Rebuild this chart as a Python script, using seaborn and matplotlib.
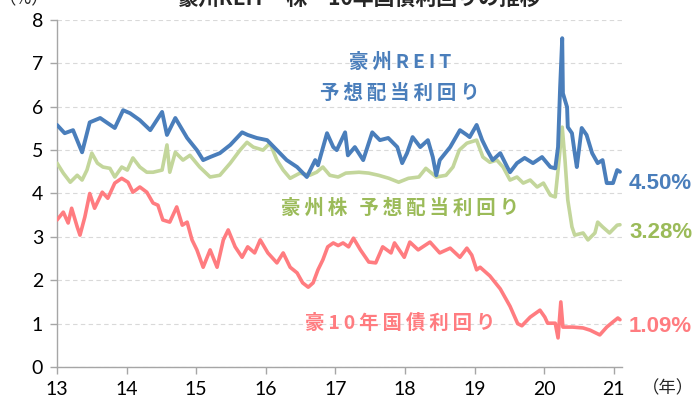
import matplotlib
matplotlib.use("Agg")
import matplotlib.pyplot as plt
import seaborn as sns
import pandas as pd

# 豪州REIT 予想配当利回り
reit_x = [13.00, 13.11, 13.23, 13.36, 13.47, 13.62, 13.83, 13.95, 14.05, 14.19, 14.34, 14.51, 14.58,
          14.70, 14.87, 15.01, 15.10, 15.20, 15.34, 15.49, 15.66, 15.74, 15.87, 16.02, 16.16, 16.30,
          16.45, 16.59, 16.71, 16.75, 16.88, 16.97, 17.02, 17.14, 17.18, 17.28, 17.40, 17.53, 17.64,
          17.76, 17.89, 17.96, 18.03, 18.11, 18.22, 18.33, 18.40, 18.45, 18.50, 18.65, 18.79, 18.89,
          18.93, 19.03, 19.11, 19.18, 19.26, 19.37, 19.47, 19.51, 19.61, 19.72, 19.84, 19.97, 20.09,
          20.16, 20.20, 20.23, 20.26, 20.27, 20.33, 20.34, 20.40, 20.44, 20.47, 20.54, 20.61, 20.69,
          20.77, 20.84, 20.90, 20.99, 21.05, 21.09]
reit_y = [5.58, 5.39, 5.46, 4.95, 5.64, 5.74, 5.51, 5.92, 5.85, 5.69, 5.46, 5.88, 5.35,
          5.74, 5.28, 5.00, 4.77, 4.84, 4.93, 5.12, 5.41, 5.35, 5.28, 5.23, 5.00, 4.77,
          4.61, 4.38, 4.77, 4.65, 5.39, 5.07, 5.00, 5.41, 4.88, 5.07, 4.77, 5.41, 5.23,
          5.28, 5.07, 4.70, 4.93, 5.30, 5.07, 5.23, 4.84, 4.42, 4.77, 5.07, 5.46, 5.35,
          5.30, 5.58, 5.23, 5.00, 4.77, 4.93, 4.61, 4.49, 4.70, 4.82, 4.70, 4.84, 4.61,
          4.58, 5.07, 6.45, 7.58, 6.31, 5.99, 5.53, 5.39, 4.93, 4.61, 5.51, 5.35, 4.93,
          4.70, 4.77, 4.24, 4.24, 4.54, 4.50]

# 豪州株 予想配当利回り
stock_x = [13.00, 13.09, 13.19, 13.29, 13.36, 13.43, 13.50, 13.58, 13.66, 13.76, 13.83, 13.93, 14.01,
           14.09, 14.19, 14.29, 14.38, 14.51, 14.58, 14.62, 14.70, 14.81, 14.91, 15.05, 15.20, 15.34,
           15.49, 15.63, 15.73, 15.82, 15.96, 16.06, 16.16, 16.25, 16.35, 16.49, 16.63, 16.73, 16.82,
           16.92, 17.04, 17.15, 17.34, 17.48, 17.62, 17.77, 17.91, 18.05, 18.20, 18.30, 18.45, 18.59,
           18.69, 18.78, 18.89, 19.03, 19.12, 19.22, 19.32, 19.41, 19.51, 19.61, 19.70, 19.80, 19.90,
           19.99, 20.09, 20.16, 20.20, 20.26, 20.30, 20.34, 20.40, 20.44, 20.56, 20.63, 20.73, 20.77,
           20.84, 20.94, 21.05, 21.09]
stock_y = [4.70, 4.47, 4.26, 4.42, 4.31, 4.54, 4.93, 4.70, 4.61, 4.58, 4.38, 4.61, 4.54,
           4.82, 4.61, 4.49, 4.49, 4.54, 5.12, 4.49, 4.95, 4.77, 4.88, 4.61, 4.38, 4.42,
           4.70, 5.00, 5.18, 5.07, 5.00, 5.16, 4.77, 4.54, 4.35, 4.47, 4.42, 4.49, 4.61,
           4.42, 4.38, 4.47, 4.49, 4.47, 4.42, 4.35, 4.26, 4.35, 4.38, 4.58, 4.38, 4.42,
           4.61, 5.00, 5.16, 5.23, 4.84, 4.72, 4.77, 4.61, 4.31, 4.38, 4.24, 4.31, 4.15,
           4.24, 3.96, 3.92, 4.54, 5.53, 4.77, 3.85, 3.23, 3.04, 3.09, 2.93, 3.09, 3.34,
           3.23, 3.09, 3.27, 3.28]

# 豪10年国債利回り
bond_x = [13.00, 13.09, 13.16, 13.21, 13.29, 13.33, 13.40, 13.47, 13.54, 13.65, 13.73, 13.83, 13.93,
          14.02, 14.09, 14.19, 14.29, 14.38, 14.45, 14.52, 14.62, 14.72, 14.80, 14.87, 14.94, 15.01,
          15.10, 15.20, 15.30, 15.39, 15.46, 15.56, 15.66, 15.74, 15.84, 15.92, 16.03, 16.16, 16.25,
          16.35, 16.45, 16.53, 16.61, 16.68, 16.75, 16.82, 16.89, 16.97, 17.04, 17.11, 17.19, 17.26,
          17.36, 17.48, 17.58, 17.68, 17.80, 17.85, 17.99, 18.07, 18.19, 18.36, 18.50, 18.65, 18.79,
          18.89, 18.96, 19.03, 19.08, 19.22, 19.37, 19.51, 19.62, 19.68, 19.80, 19.94, 20.01, 20.05,
          20.16, 20.20, 20.24, 20.27, 20.41, 20.56, 20.66, 20.80, 20.90, 20.99, 21.06, 21.09]
bond_y = [3.39, 3.57, 3.32, 3.66, 3.23, 3.04, 3.46, 4.00, 3.66, 4.03, 3.89, 4.24, 4.35,
          4.26, 4.03, 4.15, 4.03, 3.78, 3.73, 3.39, 3.34, 3.69, 3.27, 3.34, 2.93, 2.70,
          2.30, 2.70, 2.30, 2.93, 3.16, 2.77, 2.53, 2.77, 2.63, 2.93, 2.63, 2.40, 2.63,
          2.30, 2.17, 1.94, 1.84, 1.94, 2.24, 2.47, 2.77, 2.86, 2.80, 2.86, 2.77, 2.97,
          2.70, 2.42, 2.40, 2.77, 2.63, 2.86, 2.53, 2.88, 2.70, 2.88, 2.63, 2.74, 2.53,
          2.74, 2.58, 2.24, 2.30, 2.10, 1.80, 1.40, 1.00, 0.95, 1.15, 1.31, 1.15, 1.01,
          1.01, 0.67, 1.50, 0.92, 0.92, 0.90, 0.85, 0.74, 0.92, 1.04, 1.13, 1.09]

year_ticks = [13, 14, 15, 16, 17, 18, 19, 20, 21]

blue = "#4A7EBB"
green = "#C3D69B"
green_txt = "#9BBB59"
red = "#FF7C80"

sns.set_theme(style="white")
plt.rcParams['font.family'] = ['Noto Sans CJK JP', 'DejaVu Sans']

fig = plt.figure(figsize=(6.98, 4.08), dpi=100)
ax = fig.add_axes([0.0817, 0.1005, 0.809, 0.8505])

df_reit = pd.DataFrame({"x": reit_x, "y": reit_y})
df_stock = pd.DataFrame({"x": stock_x, "y": stock_y})
df_bond = pd.DataFrame({"x": bond_x, "y": bond_y})

sns.lineplot(data=df_stock, x="x", y="y", ax=ax, color=green, lw=2.6, zorder=3)
sns.lineplot(data=df_reit, x="x", y="y", ax=ax, color=blue, lw=2.8, zorder=4)
sns.lineplot(data=df_bond, x="x", y="y", ax=ax, color=red, lw=2.6, zorder=3)

ax.set_xlim(13, 21.115)
ax.set_ylim(0, 8)
ax.set_xticks(year_ticks)
ax.set_xticklabels([str(t) for t in year_ticks])
ax.set_yticks(range(0, 9))
ax.set_xlabel("")
ax.set_ylabel("")
ax.yaxis.grid(True, color="#D9D9D9", linestyle=(0, (4, 3)), linewidth=0.8)
ax.xaxis.grid(False)
for s in ["top", "right"]:
    ax.spines[s].set_visible(False)
for s in ["left", "bottom"]:
    ax.spines[s].set_color("#A6A6A6")
    ax.spines[s].set_linewidth(1.0)
ax.tick_params(axis="both", which="both", direction="out", length=5, width=1.0,
               color="#A6A6A6", labelsize=14, labelcolor="black", pad=5,
               bottom=True, left=True)
for lab in ax.get_xticklabels() + ax.get_yticklabels():
    lab.set_fontfamily(['Lato', 'DejaVu Sans'])


def spaced(s):
    # 元の図は文字間が広いので細いスペースを挟む
    return "\u2009".join(s)


tf = dict(fontweight="bold", fontsize=14, ha="center", va="center",
          family=['Noto Sans CJK JP', 'DejaVu Sans'])
ax.text(17.93, 7.03, spaced("豪州REIT"), color=blue, **tf)
ax.text(17.93, 6.31, spaced("予想配当利回り"), color=blue, **tf)
ax.text(17.93, 3.66, spaced("豪州株 予想配当利回り"), color=green_txt, **tf)
ax.text(17.93, 1.01, spaced("豪10年国債利回り"), color=red, **tf)

vf = dict(fontweight="bold", fontsize=16, ha="left", va="center",
          family=['Liberation Sans', 'DejaVu Sans'])
ax.text(21.22, 4.24, "4.50%", color=blue, **vf)
ax.text(21.22, 3.09, "3.28%", color=green_txt, **vf)
ax.text(21.22, 0.94, "1.09%", color=red, **vf)

fig.text(0.957, 0.049, "（年）", fontsize=12.5, ha="center", va="center")
fig.text(0.035, 1.002, "（%）", fontsize=12.5, ha="center", va="center")
fig.text(0.515, 1.005, "豪州REIT・株・10年国債利回りの推移", fontsize=15, fontweight="bold",
         ha="center", va="center")

fig.savefig("out.png", dpi=100)
